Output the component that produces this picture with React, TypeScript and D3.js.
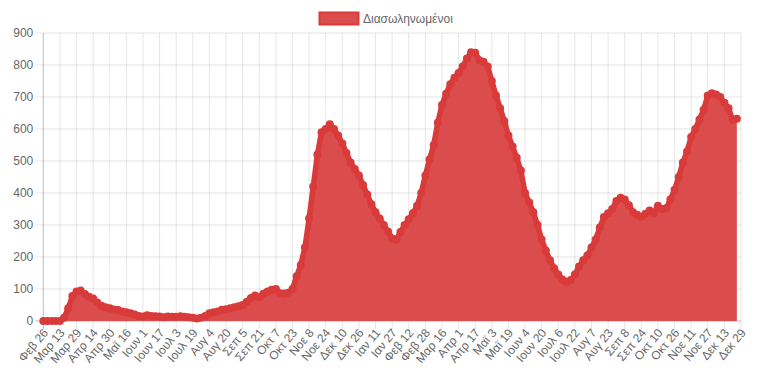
import React from "react";
import * as d3 from "d3";

const seriesLabel = "Διασωληνωμένοι";
const startDate = "2020-02-26";
const stepDays = 4;
// values every 4 days from Feb 26 2020 to Dec 29 2021
const values = [
  0, 0, 0, 0, 0, 10, 40, 78, 92, 95, 84, 76, 70, 58, 48, 43, 40, 36, 34, 30,
  27, 24, 20, 16, 14, 18, 16, 15, 14, 12, 14, 13, 13, 15, 13, 12, 10, 8, 10, 16,
  24, 27, 30, 35, 37, 40, 43, 46, 50, 60, 72, 80, 74, 85, 92, 98, 100, 87, 86, 88,
  100, 140, 175, 230, 320, 420, 520, 590, 600, 615, 600, 580, 555, 525, 495, 475, 455, 425, 395, 365,
  340, 320, 300, 280, 258, 255, 278, 300, 318, 337, 360, 400, 455, 505, 550, 620, 675, 710, 740, 760,
  775, 795, 820, 840, 838, 815, 810, 795, 750, 705, 665, 625, 580, 545, 510, 470, 400, 370, 340, 300,
  255, 220, 190, 165, 145, 130, 123, 128, 145, 170, 190, 205, 230, 255, 292, 325, 337, 350, 375, 385,
  380, 362, 340, 332, 326, 335, 345, 337, 360, 350, 352, 380, 410, 450, 495, 530, 575, 600, 630, 660,
  705, 712, 708, 700, 682, 665, 628, 632,
];
const tickLabels = [
  "Φεβ 26", "Μαρ 13", "Μαρ 29", "Απρ 14", "Απρ 30", "Μαϊ 16", "Ιουν 1", "Ιουν 17", "Ιουλ 3", "Ιουλ 19",
  "Αυγ 4", "Αυγ 20", "Σεπ 5", "Σεπ 21", "Οκτ 7", "Οκτ 23", "Νοε 8", "Νοε 24", "Δεκ 10", "Δεκ 26",
  "Ιαν 11", "Ιαν 27", "Φεβ 12", "Φεβ 28", "Μαρ 16", "Απρ 1", "Απρ 17", "Μαϊ 3", "Μαϊ 19", "Ιουν 4",
  "Ιουν 20", "Ιουλ 6", "Ιουλ 22", "Αυγ 7", "Αυγ 23", "Σεπ 8", "Σεπ 24", "Οκτ 10", "Οκτ 26", "Νοε 11",
  "Νοε 27", "Δεκ 13", "Δεκ 29",
];
const tickStepDays = 16;
const yTicks = [0, 100, 200, 300, 400, 500, 600, 700, 800, 900];

const W = 768;
const H = 383;
const left = 43.3;
const right = 741;
const top = 33;
const bottom = 321;

const fillColor = "#db4c4c";
const lineColor = "#d93a3a";
const font = "'Liberation Sans', Arial, Helvetica, sans-serif";

export default function App() {
  const t0 = new Date(startDate + "T00:00:00Z");
  const dayMs = 86400000;
  const data = values.map((v, i) => ({ date: new Date(t0.getTime() + i * stepDays * dayMs), v }));
  const ticks = tickLabels.map((l, i) => ({ date: new Date(t0.getTime() + i * tickStepDays * dayMs), l }));
  const x = d3.scaleUtc().domain([t0, ticks[ticks.length - 1].date]).range([left, right]);
  const y = d3.scaleLinear().domain([0, 900]).range([bottom, top]);
  const area = d3.area<{ date: Date; v: number }>().x((d) => x(d.date)).y0(y(0)).y1((d) => y(d.v));
  const line = d3.line<{ date: Date; v: number }>().x((d) => x(d.date)).y((d) => y(d.v));
  const grid = "rgba(0,0,0,0.1)";
  const zero = "rgba(0,0,0,0.25)";
  return (
    <svg width={W} height={H} style={{ position: "absolute", left: 0, top: 0, background: "#fff" }} fontFamily={font}>
      {yTicks.map((t) => (
        <g key={"y" + t}>
          <line x1={left - 8} x2={right} y1={y(t)} y2={y(t)} stroke={t === 0 ? zero : grid} strokeWidth={1} />
          <text x={left - 10} y={y(t)} dy="0.35em" textAnchor="end" fontSize={12} fill="#666">{t}</text>
        </g>
      ))}
      {ticks.map((t, i) => (
        <line key={"x" + i} x1={x(t.date)} x2={x(t.date)} y1={top} y2={bottom + 8} stroke={i === 0 ? zero : grid} strokeWidth={1} />
      ))}
      <path d={area(data) || ""} fill={fillColor} />
      <path d={line(data) || ""} fill="none" stroke={lineColor} strokeWidth={5.5} strokeLinejoin="round" strokeLinecap="round" />
      {data.map((d, i) => (
        <circle key={"p" + i} cx={x(d.date)} cy={y(d.v)} r={4} fill={lineColor} />
      ))}
      {ticks.map((t, i) => (
        <text key={"xl" + i} transform={`translate(${x(t.date) + 3},${bottom + 10}) rotate(-50)`} textAnchor="end" dominantBaseline="middle" fontSize={12} fill="#666">{t.l}</text>
      ))}
      <rect x={319.5} y={12.5} width={39} height={12} fill={fillColor} stroke={lineColor} strokeWidth={2} />
      <text x={363} y={18.5} dy="0.35em" fontSize={12} fill="#666">{seriesLabel}</text>
    </svg>
  );
}
